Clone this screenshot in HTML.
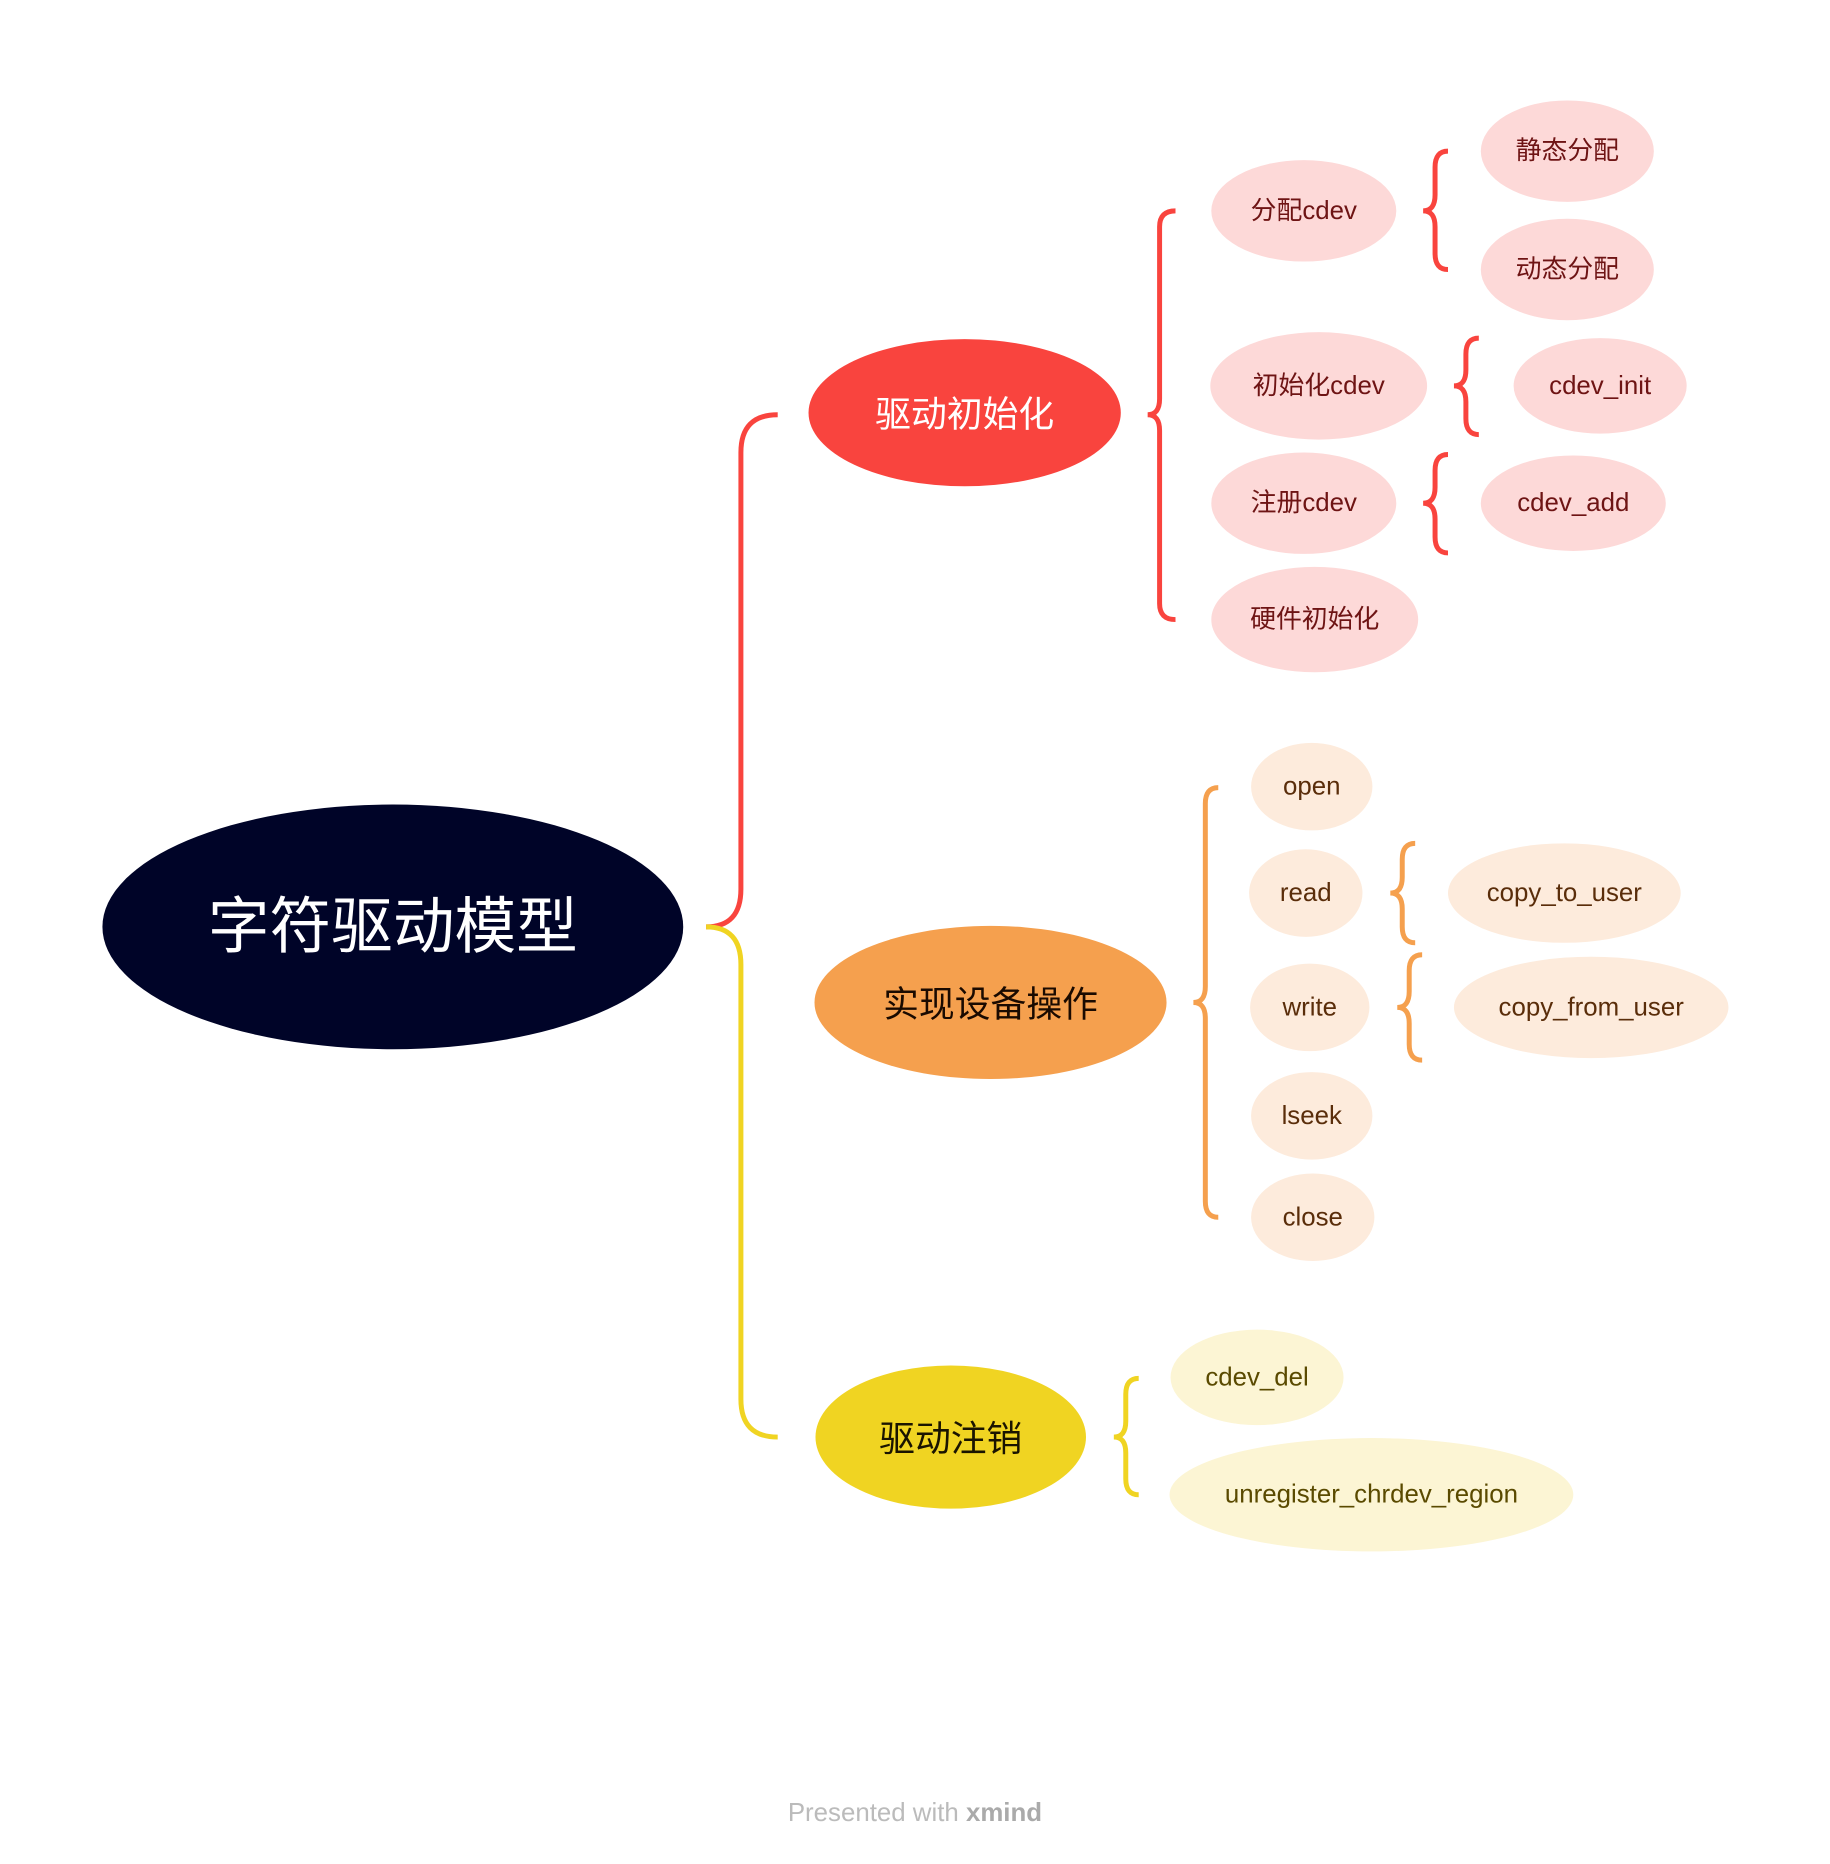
<!DOCTYPE html>
<html><head><meta charset="utf-8"><style>
html,body{margin:0;padding:0;background:#fff;}
svg{display:block;}
text{font-family:"Liberation Sans","Noto Sans CJK SC",sans-serif;text-anchor:middle;dominant-baseline:central;}
</style></head><body>
<svg width="1830" height="1864" viewBox="0 0 1830 1864" xmlns="http://www.w3.org/2000/svg">
<g transform="scale(0.9945)">
<g fill="none" stroke-width="5" stroke-linecap="butt">
<path d="M710,932 Q745,932 745,894 L745,455 Q745,417 782,417" stroke="#F9443E"/>
<path d="M710,932 Q745,932 745,970 L745,1407 Q745,1445 782,1445" stroke="#F0D422"/>
<path d="M1182,212 Q1166,212 1166,228 L1166,401 Q1166,417 1154,417 Q1166,417 1166,433 L1166,607 Q1166,623 1182,623" stroke="#F9443E"/>
<path d="M1456,152 Q1443,152 1443,168 L1443,196 Q1443,212 1431,212 Q1443,212 1443,228 L1443,255 Q1443,271 1456,271" stroke="#F9443E"/>
<path d="M1487,340 Q1474,340 1474,356 L1474,372 Q1474,388 1462,388 Q1474,388 1474,404 L1474,421 Q1474,437 1487,437" stroke="#F9443E"/>
<path d="M1456,457 Q1443,457 1443,473 L1443,490 Q1443,506 1431,506 Q1443,506 1443,522 L1443,540 Q1443,556 1456,556" stroke="#F9443E"/>
<path d="M1225,792 Q1212,792 1212,808 L1212,992 Q1212,1008 1200,1008 Q1212,1008 1212,1024 L1212,1208 Q1212,1224 1225,1224" stroke="#F5A04E"/>
<path d="M1423,848 Q1410,848 1410,864 L1410,882 Q1410,898 1398,898 Q1410,898 1410,914 L1410,932 Q1410,948 1423,948" stroke="#F5A04E"/>
<path d="M1430,960 Q1417,960 1417,976 L1417,997 Q1417,1013 1405,1013 Q1417,1013 1417,1029 L1417,1050 Q1417,1066 1430,1066" stroke="#F5A04E"/>
<path d="M1145,1386 Q1132,1386 1132,1402 L1132,1429 Q1132,1445 1120,1445 Q1132,1445 1132,1461 L1132,1487 Q1132,1503 1145,1503" stroke="#F0D422"/>
</g>
<ellipse cx="395" cy="932" rx="292" ry="123" fill="#000428"/>
<text x="395" y="932" font-size="62" fill="#fff">字符驱动模型</text>
<ellipse cx="970" cy="415" rx="157" ry="74" fill="#F9443E"/>
<text x="970" y="417" font-size="36" fill="#fff">驱动初始化</text>
<ellipse cx="996" cy="1008" rx="177" ry="77" fill="#F5A04E"/>
<text x="996" y="1010" font-size="36" fill="#1a0a00">实现设备操作</text>
<ellipse cx="956" cy="1445" rx="136" ry="72" fill="#F0D422"/>
<text x="956" y="1447" font-size="36" fill="#1a1400">驱动注销</text>
<g fill="#FDD9D8">
<ellipse cx="1311" cy="212" rx="93" ry="51"/>
<ellipse cx="1326" cy="388" rx="109" ry="54"/>
<ellipse cx="1311" cy="506" rx="93" ry="51"/>
<ellipse cx="1322" cy="623" rx="104" ry="53"/>
<ellipse cx="1576" cy="152" rx="87" ry="51"/>
<ellipse cx="1576" cy="271" rx="87" ry="51"/>
<ellipse cx="1609" cy="388" rx="87" ry="48"/>
<ellipse cx="1582" cy="506" rx="93" ry="48"/>
</g>
<g font-size="26" fill="#6e1414">
<text x="1311" y="212">分配cdev</text>
<text x="1326" y="388">初始化cdev</text>
<text x="1311" y="506">注册cdev</text>
<text x="1322" y="623">硬件初始化</text>
<text x="1576" y="152">静态分配</text>
<text x="1576" y="271">动态分配</text>
<text x="1609" y="388">cdev_init</text>
<text x="1582" y="506">cdev_add</text>
</g>
<g fill="#FDEBDC">
<ellipse cx="1319" cy="791" rx="61" ry="44"/>
<ellipse cx="1313" cy="898" rx="57" ry="44"/>
<ellipse cx="1317" cy="1013" rx="60" ry="44"/>
<ellipse cx="1319" cy="1122" rx="61" ry="44"/>
<ellipse cx="1320" cy="1224" rx="62" ry="44"/>
<ellipse cx="1573" cy="898" rx="117" ry="50"/>
<ellipse cx="1600" cy="1013" rx="138" ry="51"/>
</g>
<g font-size="26" fill="#5a2d0a">
<text x="1319" y="791">open</text>
<text x="1313" y="898">read</text>
<text x="1317" y="1013">write</text>
<text x="1319" y="1122">lseek</text>
<text x="1320" y="1224">close</text>
<text x="1573" y="898">copy_to_user</text>
<text x="1600" y="1013">copy_from_user</text>
</g>
<g fill="#FCF5D4">
<ellipse cx="1264" cy="1385" rx="87" ry="48"/>
<ellipse cx="1379" cy="1503" rx="203" ry="57"/>
</g>
<g font-size="26" fill="#5a4a00">
<text x="1264" y="1385">cdev_del</text>
<text x="1379" y="1503">unregister_chrdev_region</text>
</g>
<text x="920" y="1823" font-size="26" fill="#bbbbbb">Presented with <tspan font-weight="bold" fill="#aaaaaa">xmind</tspan></text>
</g>
</svg>
</body></html>
